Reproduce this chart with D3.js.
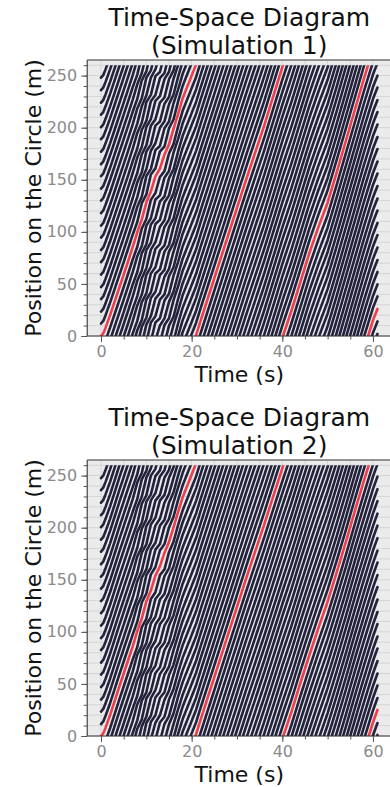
<!DOCTYPE html>
<html><head><meta charset="utf-8">
<script src="https://cdn.jsdelivr.net/npm/d3@7"></script>
<style>
body{margin:0;background:#fff;}
svg{display:block;font-family:"DejaVu Sans",sans-serif;}
</style>
</head><body>
<svg id="chart" width="390" height="787"></svg>
<script>
// ---------------- data ----------------
const ringLength = 260;                       // circumference (m)
const xTicksMajor = [0, 20, 40, 60];
const yTicksMajor = [0, 50, 100, 150, 200, 250];
const xTicksMinor = d3.range(0, 65, 5);
const yTicksMinor = d3.range(0, 270, 10);

// sample times (s)
const timeKnots = [0,0.5,1,2,3,4,5,6,7,8,9,10,11,12,13,14,15,16,17,18,20,21,22,
  24,26,28,30,32,34,36,38,40,42,44,46,48,50,52,54,56,58,60,61];

// distance travelled by the highlighted (red) vehicle, unwrapped (m)
const leaderDist1 = [0,2.5,8,20,33,46,59,72,85.5,99,113,127,140,152,162,173,185,198,213,228,250,261,275,
  302,329,356,383,410,436,462,490,518,544,572,600,625,648,677,707,737,767,795,806];
const leaderDist2 = [0,2.5,8,20,33.5,47,60,73,86,100,114,128,141,153,164,175,187,200,215,229,251,262,276,
  303,330,357,384,411,437,463,490,517,543,571,598,624,649,677,706,736,765,793,805];

// stop-and-go oscillation (position deviation, m) at each sample time
const waveDev1 = [0,0,0,0,0,0,0,0,0,1.5,-2.5,3,-3,3,-3,3,-2.5,2,0,0,0,0,0,
  0,0,0,0,0,0,0,0,0,0,0,0,0,0,0,0,0,0,0,0];
const waveDev2 = [0,0,0,0,0,0,0,0,0,2,-3,3,-3,2.5,-3,2.5,-2,1,0,0,0,0,0,
  0,0,0,0,0,0,0,0,0,0,0,0,0,0,0,0,0,0,0,0];

// initial positions of the 22 vehicles on the ring (m); vehicle 0 is highlighted
const startPositions1 = [0,12,23.5,35.5,47,59,71,82.5,94.5,106,118,130,141.5,153.5,165,177,189,200.5,212.5,224,236,248];
const startPositions2 = [0,11.5,23.5,35,47,59,70.5,82.5,94,106,118,129.5,141.5,153,165,177,188.5,200.5,212,224,236,247.5];

// how strongly each vehicle takes part in the oscillation
const wavePhase1 = [0.4,-1,1,-0.8,1,-1,0.9,-1,1,-0.7,1,-1,0.8,-1,1,-1,0.9,-0.8,1,-1,1,-0.9];
const wavePhase2 = [0.4,-0.9,1,-1,0.8,-1,1,-0.9,1,-1,0.7,-1,1,-0.8,1,-1,1,-0.9,0.8,-1,1,-1];

const panelTitles = ["(Simulation 1)", "(Simulation 2)"];

// ---------------- drawing ----------------
const sims = [
  {sub: panelTitles[0], dist: leaderDist1, dev: waveDev1, phase: wavePhase1, starts: startPositions1},
  {sub: panelTitles[1], dist: leaderDist2, dev: waveDev2, phase: wavePhase2, starts: startPositions2}
];

const svg = d3.select("#chart");
const L = 87.2, R = 391.3, T = 60, B = 336;
const darkCol = "#22223d", redCol = "#ee3d4b";

sims.forEach((s, si) => {
  const g = svg.append("g").attr("transform", `translate(0,${si * 400})`);
  const x = d3.scaleLinear().domain([-3.05, 64.05]).range([L, R]);
  const y = d3.scaleLinear().domain([0, 265]).range([B, T]);

  // background
  g.append("rect").attr("x", L).attr("y", T).attr("width", R - L).attr("height", B - T).attr("fill", "#ebebeb");

  // grid
  g.append("g").selectAll("line").data(yTicksMinor).join("line")
    .attr("x1", L).attr("x2", R).attr("y1", d => y(d)).attr("y2", d => y(d))
    .attr("stroke", "#d5d5d5").attr("stroke-width", 1);
  g.append("g").selectAll("line").data(xTicksMinor).join("line")
    .attr("y1", T).attr("y2", B).attr("x1", d => x(d)).attr("x2", d => x(d))
    .attr("stroke", "#d5d5d5").attr("stroke-width", 1);

  // clip to the ring [0, ringLength]
  const clipId = "clip" + si;
  g.append("clipPath").attr("id", clipId).append("rect")
    .attr("x", L).attr("y", y(ringLength)).attr("width", R - L).attr("height", y(0) - y(ringLength));

  const line = d3.line().x(d => x(d.t)).y(d => y(d.p));
  const traj = g.append("g").attr("clip-path", `url(#${clipId})`).attr("fill", "none")
    .attr("stroke-linejoin", "round").attr("stroke-linecap", "round");

  const order = d3.range(1, s.starts.length).concat([0]);
  order.forEach(i => {
    const pts = timeKnots.map((t, k) => ({t, p: s.starts[i] + s.dist[k] + s.dev[k] * s.phase[i]}));
    const maxP = d3.max(pts, d => d.p);
    const laps = Math.ceil(maxP / ringLength);
    for (let w = 0; w < laps; w++) {
      traj.append("path")
        .attr("d", line(pts.map(d => ({t: d.t, p: d.p - w * ringLength}))))
        .attr("stroke", i === 0 ? redCol : darkCol)
        .attr("stroke-width", 2.6);
    }
  });

  // frame
  g.append("line").attr("x1", L).attr("x2", L).attr("y1", T).attr("y2", B).attr("stroke", "#333").attr("stroke-width", 1.1);
  g.append("line").attr("x1", L).attr("x2", R).attr("y1", B).attr("y2", B).attr("stroke", "#333").attr("stroke-width", 1.1);
  g.append("line").attr("x1", L).attr("x2", R).attr("y1", T).attr("y2", T).attr("stroke", "#333").attr("stroke-width", 1.1);

  // axes
  const styleAxis = a => {
    a.select(".domain").remove();
    a.selectAll(".tick line").attr("stroke", "#555");
    a.selectAll("text").attr("fill", "#8a8a8a").style("font-size", "16px").style("font-family", "DejaVu Sans");
  };
  g.append("g").attr("transform", `translate(${L},0)`)
    .call(d3.axisLeft(y).tickValues(yTicksMinor).tickSize(3.5).tickFormat("")).call(styleAxis);
  g.append("g").attr("transform", `translate(0,${B})`)
    .call(d3.axisBottom(x).tickValues(xTicksMinor).tickSize(3.5).tickFormat("")).call(styleAxis);
  g.append("g").attr("transform", `translate(${L},0)`)
    .call(d3.axisLeft(y).tickValues(yTicksMajor).tickSize(6).tickPadding(4).tickFormat(d3.format("d"))).call(styleAxis);
  g.append("g").attr("transform", `translate(0,${B})`)
    .call(d3.axisBottom(x).tickValues(xTicksMajor).tickSize(6).tickPadding(4).tickFormat(d3.format("d"))).call(styleAxis);

  // titles
  const cx = (L + R) / 2;
  const title = g.append("text").attr("text-anchor", "middle").attr("fill", "#111").style("font-size", "25px");
  title.append("tspan").attr("x", cx).attr("y", 26).text("Time-Space Diagram");
  title.append("tspan").attr("x", cx).attr("y", 54).text(s.sub);

  g.append("text").attr("x", cx).attr("y", 382).attr("text-anchor", "middle")
    .attr("fill", "#111").style("font-size", "22px").text("Time (s)");
  g.append("text").attr("transform", `translate(41,${(T + B) / 2}) rotate(-90)`).attr("text-anchor", "middle")
    .attr("fill", "#111").style("font-size", "22px").text("Position on the Circle (m)");
});
</script>
</body></html>
